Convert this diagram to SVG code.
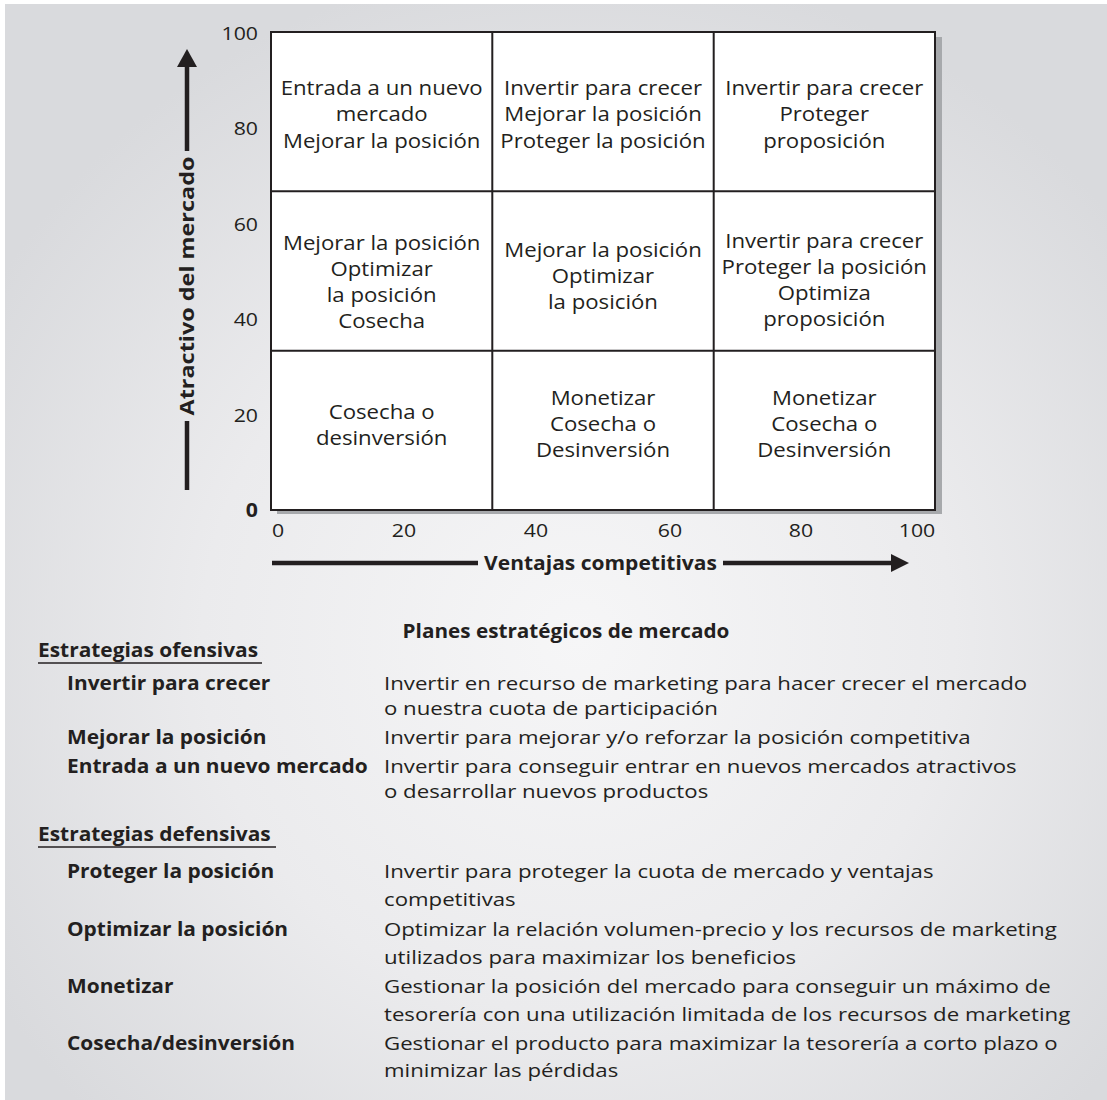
<svg xmlns="http://www.w3.org/2000/svg" width="1107" height="1100" viewBox="0 0 1107 1100">
<defs>
<radialGradient id="bg" cx="0.52" cy="0.58" r="0.62">
<stop offset="0" stop-color="#f6f6f7"/>
<stop offset="0.55" stop-color="#ebebed"/>
<stop offset="1" stop-color="#d9dadd"/>
</radialGradient>
<style>
text{font-family:"Open Sans","Liberation Sans",sans-serif;fill:#231f20;transform-box:fill-box}
.cell{font-size:20px;text-anchor:middle;transform-origin:50% 50%;transform:scaleX(1.11)}
.tk{font-size:19px;text-anchor:middle;transform-origin:50% 50%;transform:scaleX(1.12)}
.tke{font-size:19px;text-anchor:end;transform-origin:100% 50%;transform:scaleX(1.12)}
.ax{font-size:20px;font-weight:bold;text-anchor:middle;transform-origin:50% 50%;transform:scaleX(1.05)}
.axv{font-size:20px;font-weight:bold;text-anchor:middle;transform-origin:50% 50%;transform:scaleX(1.17)}
.hc{font-size:19px;font-weight:bold;text-anchor:middle;transform-origin:50% 50%;transform:scaleX(1.09)}
.h{font-size:19px;font-weight:bold;transform-origin:0 50%;transform:scaleX(1.10)}
.d{font-size:19px;transform-origin:0 50%;transform:scaleX(1.17)}
.grid{fill:none;stroke:#231f20;stroke-width:2}
.axl{stroke:#231f20;stroke-width:4.5}
.ul{stroke:#231f20;stroke-width:1.5}
</style>
</defs>
<rect x="0" y="0" width="1107" height="1100" fill="#ffffff"/>
<rect x="5" y="4" width="1102" height="1096" fill="url(#bg)"/>

<g id="matrix">
<rect x="277" y="37" width="665" height="477" fill="#a7a9ac"/>
<rect x="271" y="32" width="664" height="478" fill="#ffffff"/>
<path class="grid" d="M271,32H935V510H271Z M492.3,32V510 M713.7,32V510 M271,191.3H935 M271,350.7H935"/>
</g>

<g id="cell-1-1"><text class="cell" x="381.7" y="95">Entrada a un nuevo</text><text class="cell" x="381.7" y="121">mercado</text><text class="cell" x="381.7" y="148">Mejorar la posición</text></g>
<g id="cell-1-2"><text class="cell" x="603" y="95">Invertir para crecer</text><text class="cell" x="603" y="121">Mejorar la posición</text><text class="cell" x="603" y="148">Proteger la posición</text></g>
<g id="cell-1-3"><text class="cell" x="824.3" y="95">Invertir para crecer</text><text class="cell" x="824.3" y="121">Proteger</text><text class="cell" x="824.3" y="148">proposición</text></g>
<g id="cell-2-1"><text class="cell" x="381.7" y="250">Mejorar la posición</text><text class="cell" x="381.7" y="276">Optimizar</text><text class="cell" x="381.7" y="302">la posición</text><text class="cell" x="381.7" y="328">Cosecha</text></g>
<g id="cell-2-2"><text class="cell" x="603" y="257">Mejorar la posición</text><text class="cell" x="603" y="283">Optimizar</text><text class="cell" x="603" y="309">la posición</text></g>
<g id="cell-2-3"><text class="cell" x="824.3" y="248">Invertir para crecer</text><text class="cell" x="824.3" y="274">Proteger la posición</text><text class="cell" x="824.3" y="300">Optimiza</text><text class="cell" x="824.3" y="326">proposición</text></g>
<g id="cell-3-1"><text class="cell" x="381.7" y="419">Cosecha o</text><text class="cell" x="381.7" y="445">desinversión</text></g>
<g id="cell-3-2"><text class="cell" x="603" y="405">Monetizar</text><text class="cell" x="603" y="431">Cosecha o</text><text class="cell" x="603" y="457">Desinversión</text></g>
<g id="cell-3-3"><text class="cell" x="824.3" y="405">Monetizar</text><text class="cell" x="824.3" y="431">Cosecha o</text><text class="cell" x="824.3" y="457">Desinversión</text></g>

<g id="y-ticks">
<text class="tke" x="258" y="40">100</text><text class="tke" x="258" y="135">80</text><text class="tke" x="258" y="231">60</text><text class="tke" x="258" y="326">40</text><text class="tke" x="258" y="422">20</text><text class="tke" x="258" y="517" font-weight="bold">0</text>
</g>
<g id="x-ticks">
<text class="tk" x="278" y="537">0</text><text class="tk" x="404" y="537">20</text><text class="tk" x="536" y="537">40</text><text class="tk" x="670" y="537">60</text><text class="tk" x="801" y="537">80</text><text class="tk" x="917" y="537">100</text>
</g>

<g id="connectors">
<line class="axl" x1="187" y1="490" x2="187" y2="421"/>
<line class="axl" x1="187" y1="151" x2="187" y2="65"/>
<polygon points="177,67 197,67 187,49" fill="#231f20"/>
<line class="axl" x1="272" y1="563" x2="478" y2="563"/>
<line class="axl" x1="723" y1="563" x2="893" y2="563"/>
<polygon points="891,554 909,563 891,572" fill="#231f20"/>
</g>
<g id="axis-y-label" transform="translate(194,286) rotate(-90)"><text class="axv" x="0" y="0">Atractivo del mercado</text></g>
<g id="axis-x-label"><text class="ax" x="600.5" y="570">Ventajas competitivas</text></g>

<g id="legend">
<text class="hc" x="566" y="638">Planes estratégicos de mercado</text>
<text class="h" x="38" y="657">Estrategias ofensivas</text>
<line class="ul" x1="38" y1="663" x2="262" y2="663"/>
<text class="h" x="67" y="690">Invertir para crecer</text>
<text class="d" x="384" y="690">Invertir en recurso de marketing para hacer crecer el mercado</text>
<text class="d" x="384" y="715">o nuestra cuota de participación</text>
<text class="h" x="67" y="744">Mejorar la posición</text>
<text class="d" x="384" y="744">Invertir para mejorar y/o reforzar la posición competitiva</text>
<text class="h" x="67" y="773">Entrada a un nuevo mercado</text>
<text class="d" x="384" y="773">Invertir para conseguir entrar en nuevos mercados atractivos</text>
<text class="d" x="384" y="798">o desarrollar nuevos productos</text>
<text class="h" x="38" y="841">Estrategias defensivas</text>
<line class="ul" x1="38" y1="847" x2="276" y2="847"/>
<text class="h" x="67" y="878">Proteger la posición</text>
<text class="d" x="384" y="878">Invertir para proteger la cuota de mercado y ventajas</text>
<text class="d" x="384" y="906">competitivas</text>
<text class="h" x="67" y="936">Optimizar la posición</text>
<text class="d" x="384" y="936">Optimizar la relación volumen-precio y los recursos de marketing</text>
<text class="d" x="384" y="964">utilizados para maximizar los beneficios</text>
<text class="h" x="67" y="993">Monetizar</text>
<text class="d" x="384" y="993">Gestionar la posición del mercado para conseguir un máximo de</text>
<text class="d" x="384" y="1021">tesorería con una utilización limitada de los recursos de marketing</text>
<text class="h" x="67" y="1050">Cosecha/desinversión</text>
<text class="d" x="384" y="1050">Gestionar el producto para maximizar la tesorería a corto plazo o</text>
<text class="d" x="384" y="1077">minimizar las pérdidas</text>
</g>
</svg>
